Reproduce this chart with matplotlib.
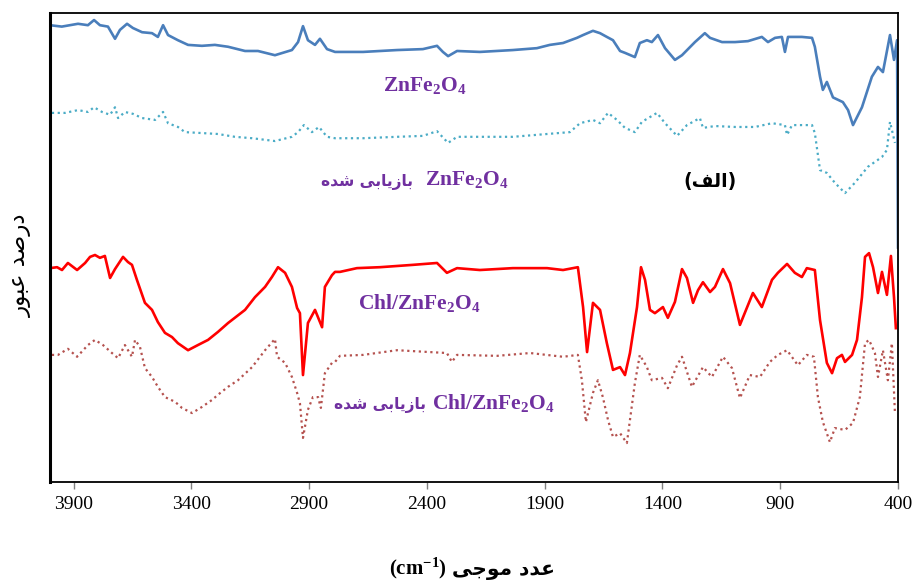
import matplotlib
matplotlib.use("Agg")
import matplotlib.pyplot as plt

# FTIR spectra (wavenumber in cm-1, arbitrary transmittance)
wn_fresh = [4000, 3950, 3881, 3839, 3813, 3788, 3754, 3724, 3703, 3673, 3648, 3609, 3567, 3542,
            3520, 3499, 3457, 3414, 3355, 3300, 3244, 3172, 3117, 3045, 2973, 2947, 2926, 2905,
            2875, 2854, 2824, 2790, 2671, 2527, 2417, 2357, 2332, 2310, 2272, 2175, 2035, 1933,
            1878, 1822, 1763, 1737, 1695, 1665, 1636, 1610, 1580, 1559, 1517, 1496, 1466, 1445,
            1419, 1389, 1347, 1317, 1262, 1220, 1198, 1147, 1092, 1037, 978, 952, 922, 893, 880,
            867, 808, 765, 753, 731, 719, 702, 676, 634, 612, 591, 553, 511, 485, 464, 434, 417,
            404, 400]
t_fresh = [97.4, 97.1, 97.7, 97.4, 98.5, 97.4, 97.1, 94.5, 96.4, 97.7, 96.8, 95.9, 95.7, 94.9,
           97.4, 95.3, 94.2, 93.2, 93.0, 93.2, 92.8, 91.9, 91.9, 91.0, 92.1, 93.8, 97.2, 94.2,
           93.2, 94.5, 92.3, 91.7, 91.7, 92.1, 92.3, 93.0, 91.7, 90.8, 91.9, 91.7, 92.1, 92.5,
           93.2, 93.6, 94.7, 95.3, 96.2, 95.7, 94.9, 94.2, 91.9, 91.5, 90.6, 93.6, 94.2, 93.8,
           95.3, 92.5, 90.0, 91.0, 93.8, 95.7, 94.7, 93.8, 93.8, 94.0, 94.9, 93.8, 94.7, 94.9, 91.7,
           94.9, 94.9, 94.7, 92.8, 86.4, 83.6, 85.3, 82.0, 81.0, 79.3, 76.1, 79.9, 86.4, 88.5, 87.4,
           95.3, 90.0, 94.2, 50.0]

wn_fresh_rec = [3992, 3936, 3881, 3839, 3813, 3779, 3745, 3724, 3711, 3682, 3648, 3609, 3554,
                3520, 3499, 3457, 3427, 3355, 3287, 3215, 3142, 3045, 2973, 2947, 2922, 2888,
                2858, 2824, 2790, 2671, 2527, 2417, 2357, 2310, 2272, 2175, 2035, 1890, 1793,
                1750, 1695, 1665, 1631, 1593, 1559, 1517, 1487, 1423, 1389, 1338, 1296, 1241,
                1228, 1177, 1092, 1007, 935, 880, 871, 850, 765, 753, 731, 702, 668, 625, 583,
                528, 468, 447, 434, 413]
t_fresh_rec = [78.7, 78.7, 79.3, 78.9, 79.9, 78.9, 78.3, 79.9, 77.6, 78.9, 78.5, 77.6, 77.2,
               78.9, 76.5, 75.7, 74.6, 74.4, 74.2, 73.6, 73.3, 72.7, 73.6, 74.6, 76.1, 74.6,
               75.7, 73.6, 73.3, 73.3, 73.6, 73.8, 74.8, 72.3, 73.6, 73.6, 73.6, 74.2, 74.6,
               76.5, 77.2, 76.5, 78.7, 77.2, 75.5, 74.6, 76.8, 78.7, 76.5, 73.8, 76.1, 77.6,
               75.5, 75.9, 75.7, 75.7, 76.5, 76.1, 74.0, 76.1, 76.1, 74.4, 66.5, 65.9, 63.8,
               61.6, 63.8, 67.2, 69.3, 70.8, 76.8, 72.3]

wn_chl = [4000, 3970, 3949, 3924, 3885, 3851, 3830, 3809, 3788, 3767, 3745, 3724, 3690, 3669,
          3652, 3631, 3597, 3567, 3542, 3512, 3482, 3457, 3414, 3372, 3329, 3287, 3244, 3172,
          3130, 3087, 3058, 3032, 3002, 2973, 2951, 2939, 2926, 2905, 2875, 2845, 2833, 2803,
          2790, 2769, 2697, 2599, 2459, 2357, 2315, 2272, 2175, 2035, 1890, 1822, 1759, 1737,
          1720, 1695, 1665, 1636, 1610, 1580, 1559, 1538, 1508, 1491, 1474, 1453, 1432, 1398,
          1377, 1347, 1317, 1296, 1270, 1249, 1228, 1198, 1177, 1143, 1113, 1071, 1016, 978,
          935, 910, 871, 838, 808, 787, 753, 731, 702, 680, 659, 638, 625, 595, 574, 553, 540,
          523, 506, 485, 468, 447, 430, 417, 409]
t_chl = [45.6, 45.8, 45.2, 46.7, 45.2, 46.7, 48.0, 48.4, 47.8, 48.2, 43.5, 45.4, 48.0, 46.9,
         46.3, 43.1, 38.2, 36.7, 34.1, 31.8, 30.9, 29.6, 28.1, 29.2, 30.3, 32.0, 33.9, 36.7,
         39.4, 41.6, 43.7, 45.8, 44.6, 41.6, 37.1, 36.0, 22.8, 33.9, 36.7, 33.0, 41.6, 44.1,
         44.8, 44.8, 45.6, 45.8, 46.3, 46.7, 44.6, 45.6, 45.2, 45.6, 45.6, 45.2, 45.8, 37.3,
         27.7, 38.2, 36.7, 29.6, 23.9, 24.5, 22.8, 27.5, 37.3, 45.8, 43.1, 36.7, 36.0, 37.3,
         35.0, 38.4, 45.4, 43.5, 38.2, 40.9, 42.6, 40.5, 41.6, 45.4, 42.4, 33.5, 40.3, 37.3,
         43.1, 44.6, 46.5, 44.6, 43.7, 45.6, 45.2, 34.5, 25.4, 23.2, 26.4, 27.1, 25.6, 27.1,
         30.3, 39.4, 48.0, 48.8, 45.8, 40.3, 44.8, 39.9, 48.2, 39.4, 32.8]

wn_chl_rec = [3992, 3966, 3924, 3885, 3839, 3809, 3775, 3737, 3711, 3682, 3652, 3639, 3618,
              3597, 3567, 3542, 3512, 3469, 3440, 3397, 3355, 3312, 3287, 3244, 3202, 3142,
              3087, 3045, 3036, 3002, 2973, 2951, 2939, 2926, 2905, 2884, 2862, 2850, 2833,
              2803, 2790, 2769, 2671, 2527, 2387, 2315, 2294, 2272, 2102, 1962, 1822, 1759,
              1742, 1725, 1695, 1674, 1653, 1631, 1610, 1580, 1551, 1538, 1517, 1496, 1466,
              1445, 1402, 1377, 1338, 1317, 1275, 1228, 1190, 1143, 1105, 1071, 1029, 986, 944,
              910, 871, 825, 787, 757, 740, 719, 689, 668, 625, 591, 562, 540, 523, 498, 485,
              464, 443, 426, 413]
t_chl_rec = [27.1, 27.1, 28.4, 26.7, 29.2, 30.3, 29.2, 27.5, 26.4, 29.2, 26.7, 30.3, 28.8,
             24.3, 22.4, 20.3, 18.1, 17.1, 15.8, 14.7, 16.0, 17.5, 18.6, 20.3, 21.7, 24.5,
             28.1, 30.5, 26.7, 25.4, 22.4, 19.0, 16.8, 9.4, 15.4, 18.1, 18.1, 15.8, 23.2,
             25.4, 25.6, 26.9, 27.1, 28.1, 27.7, 27.5, 25.6, 27.1, 26.9, 27.5, 26.7, 27.1,
             21.7, 12.8, 19.0, 21.7, 18.1, 13.2, 9.6, 10.4, 8.3, 13.2, 21.1, 27.1, 24.5,
             21.7, 22.2, 20.0, 24.9, 26.7, 20.3, 24.5, 22.4, 26.7, 24.3, 17.9, 22.8, 22.4, 25.6,
             27.1, 28.1, 24.9, 27.1, 26.7, 18.1, 12.8, 8.5, 11.5, 11.1, 12.6, 18.1, 29.6, 30.3,
             27.5, 22.4, 28.1, 21.7, 29.6, 14.7]

xticks = [3900, 3400, 2900, 2400, 1900, 1400, 900, 400]

# Persian text, pre-shaped (presentation forms, visual order)
ylabel_fa = "\uFEAD\uFEEE\uFE92\uFECB \uFEAA\uFEBB\uFEAD\uFEA9"          # درصد عبور
xlabel_fa = "\uFEF0\uFE9F\uFEEE\uFEE3 \uFEA9\uFEAA\uFECB"                # عدد موجی
recovered_fa = "\uFEE9\uFEAA\uFEB7 \uFEF0\uFE91\uFE8E\uFEF3\uFEAF\uFE8E\uFE91"  # بازیابی شده
panel_fa = "(\uFED2\uFEDF\uFE8D)"                                         # (الف)

plt.rcParams["mathtext.fontset"] = "custom"
plt.rcParams["mathtext.rm"] = "Liberation Serif:bold"
plt.rcParams["mathtext.it"] = "Liberation Serif:bold"
plt.rcParams["mathtext.bf"] = "Liberation Serif:bold"

W, H = 920, 582
fig = plt.figure(figsize=(W / 100, H / 100), dpi=100)
ax = fig.add_axes([50 / W, 1 - 482 / H, 848 / W, 469 / H])

ax.plot(wn_fresh, t_fresh, color="#4A7EBB", lw=1.9)
ax.plot(wn_fresh_rec, t_fresh_rec, color="#4BACC6", lw=1.6, ls=(0, (1, 1.6)))
ax.plot(wn_chl, t_chl, color="#FF0000", lw=1.9)
ax.plot(wn_chl_rec, t_chl_rec, color="#B5524F", lw=1.6, ls=(0, (1, 1.6)))

ax.set_xlim(4000, 400)
ax.set_ylim(0, 100)
ax.set_xticks(xticks)
ax.set_xticklabels([str(v) for v in xticks], fontfamily="Liberation Serif", fontsize=14)
ax.set_yticks([])
ax.tick_params(axis="x", direction="out", length=5, width=1, color="#808080", pad=5)
for s in ax.spines.values():
    s.set_color("black")
    s.set_linewidth(1.3)
ax.spines["left"].set_linewidth(2.2)


def px(x, y):
    return x / W, 1 - y / H


purple = "#7030A0"
lat = dict(fontfamily="Liberation Serif", fontweight="bold", fontsize=15.5, color=purple, va="center")
fa = dict(fontfamily="DejaVu Sans", fontweight="bold", fontsize=11.2, color=purple, va="center")

fig.text(*px(425, 85), r"ZnFe$_2$O$_4$", ha="center", **lat)
fig.text(*px(425, 180), r"ZnFe$_2$O$_4$", ha="left", **lat)
fig.text(*px(413, 182), recovered_fa, ha="right", **fa)
fig.text(*px(419, 303), r"Chl/ZnFe$_2$O$_4$", ha="center", **lat)
fig.text(*px(432, 403), r"Chl/ZnFe$_2$O$_4$", ha="left", **lat)
fig.text(*px(426, 405), recovered_fa, ha="right", **fa)
fig.text(*px(710, 182), panel_fa, ha="center", va="center", fontfamily="DejaVu Sans",
         fontweight="bold", fontsize=13.5, color="black")

fig.text(*px(20, 265), ylabel_fa, rotation=90, ha="center", va="center",
         fontfamily="DejaVu Sans", fontsize=16.5, color="black")
fig.text(*px(447, 568), r"(cm$^{-1}$)", ha="right", va="center",
         fontfamily="Liberation Serif", fontweight="bold", fontsize=15, color="black")
fig.text(*px(452, 571), xlabel_fa, ha="left", va="center",
         fontfamily="DejaVu Sans", fontweight="bold", fontsize=14.5, color="black")

fig.savefig("out.png", dpi=100)
